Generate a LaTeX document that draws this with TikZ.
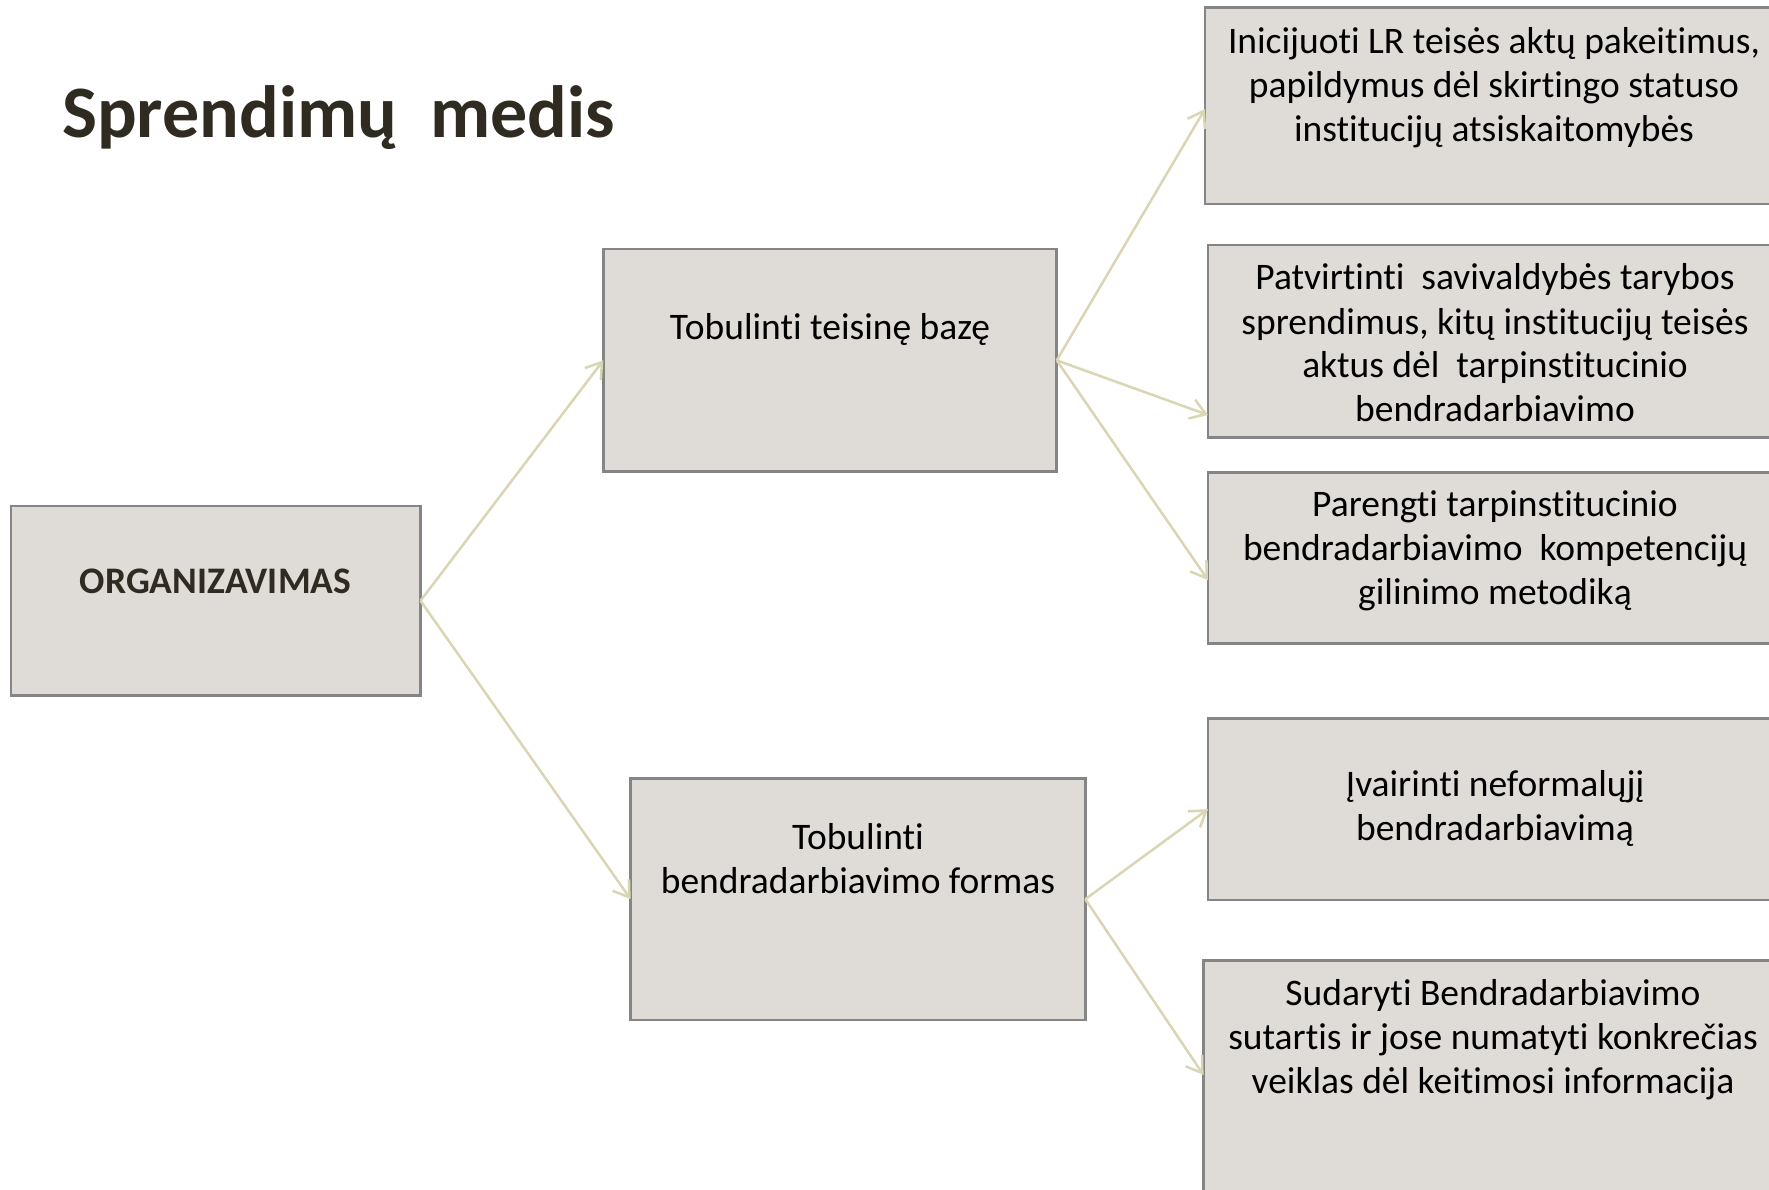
\documentclass[tikz,border=0pt]{standalone}
\usepackage{fontspec}
\setmainfont{Carlito}[Ligatures=NoCommon]
\usetikzlibrary{arrows.meta,calc}
\definecolor{boxfill}{HTML}{DFDBD7}
\definecolor{boxline}{HTML}{858585}
\definecolor{arrowc}{HTML}{DAD6B4}
\definecolor{darktext}{HTML}{2F2B20}
\newcommand\mlines[1]{\vtop{\halign{\hfil##\hfil\cr#1\crcr}}}
\tikzset{
  box/.style={draw=boxline, fill=boxfill, line width=2.5pt, rectangle, inner sep=0pt, outer sep=0pt, anchor=north west},
  txt/.style={font=\fontsize{37.5}{44}\selectfont, inner sep=0pt, anchor=base, text=black},
  conn/.style={draw=arrowc, line width=2.5pt, -{Straight Barb[length=15pt,width=20pt]}}
}
\begin{document}
\begin{tikzpicture}[x=1pt,y=-1pt]
\useasboundingbox (0,0) rectangle (1769,1190);
\clip (0,0) rectangle (1769,1190);
\fill[white] (0,0) rectangle (1769,1190);

\node[anchor=base west, inner sep=0pt, font=\fontsize{74}{88}\selectfont\bfseries, text=darktext] (title) at (62,138) {Sprendimų~ medis};

\node[box, minimum width=409.5pt, minimum height=189.5pt] (org) at (11,506) {};
\node[box, minimum width=453.4pt, minimum height=222.7pt] (b1) at (603.3,249) {};
\node[box, minimum width=454.6pt, minimum height=241.5pt] (b2) at (630.7,778.4) {};
\node[box, minimum width=578pt, minimum height=196.7pt] (r1) at (1205,7.3) {};
\node[box, minimum width=575pt, minimum height=192.7pt] (r2) at (1208,245) {};
\node[box, minimum width=575pt, minimum height=170.6pt] (r3) at (1208,472.7) {};
\node[box, minimum width=575pt, minimum height=181.7pt] (r4) at (1208,718.3) {};
\node[box, minimum width=580pt, minimum height=240pt] (r5) at (1203.5,960.5) {};

\node[txt, font=\fontsize{37.5}{44}\selectfont\bfseries, text=darktext] (torg) at (215.5,593) {ORGANIZAVIMAS};
\node[txt] (tb1) at (830,339) {Tobulinti teisinę bazę};
\node[txt] (tb2) at (858,849) {\mlines{Tobulinti\cr bendradarbiavimo formas}};
\node[txt] (tr1) at (1494,53.3) {\mlines{Inicijuoti LR teisės aktų pakeitimus,\cr papildymus dėl skirtingo statuso\cr institucijų atsiskaitomybės}};
\node[txt] (tr2) at (1495,290) {\mlines{Patvirtinti~ savivaldybės tarybos\cr sprendimus, kitų institucijų teisės\cr aktus dėl~ tarpinstitucinio\cr bendradarbiavimo}};
\node[txt] (tr3) at (1495,516.7) {\mlines{Parengti tarpinstitucinio\cr bendradarbiavimo~ kompetencijų\cr gilinimo metodiką}};
\node[txt] (tr4) at (1495,796.7) {\mlines{Įvairinti neformalųjį\cr bendradarbiavimą}};
\node[txt] (tr5) at (1493,1005) {\mlines{Sudaryti Bendradarbiavimo\cr sutartis ir jose numatyti konkrečias\cr veiklas dėl keitimosi informacija}};

\draw[conn] (org.east) -- (b1.west);
\draw[conn] (org.east) -- (b2.west);
\draw[conn] (b1.east) -- ($(r1.north west)!0.517!(r1.south west)$);
\draw[conn] (b1.east) -- ($(r2.north west)!0.882!(r2.south west)$);
\draw[conn] (b1.east) -- ($(r3.north west)!0.629!(r3.south west)$);
\draw[conn] (b2.east) -- (r4.west);
\draw[conn] (b2.east) -- ($(r5.north west)!0.477!(r5.south west)$);
\end{tikzpicture}
\end{document}
